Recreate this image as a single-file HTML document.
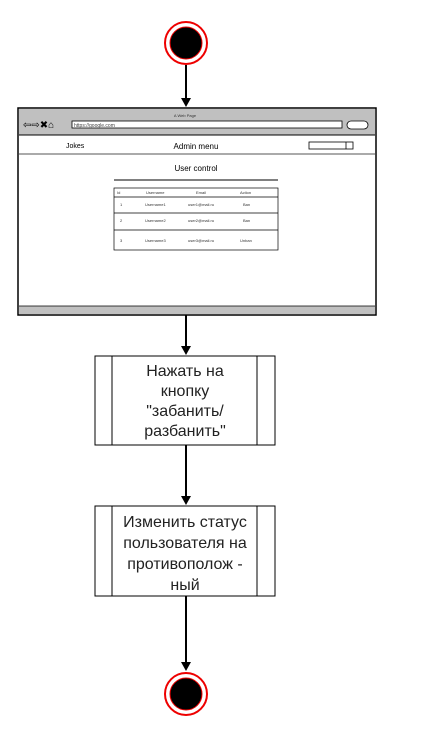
<!DOCTYPE html>
<html><head><meta charset="utf-8"><style>
body{margin:0;background:#fff;width:438px;height:744px;overflow:hidden;font-family:"Liberation Sans",sans-serif}
</style></head><body>
<svg width="438" height="744" xmlns="http://www.w3.org/2000/svg" font-family="Liberation Sans, sans-serif">
<defs><marker id="a" markerWidth="8" markerHeight="8" refX="4" refY="7" orient="auto" markerUnits="userSpaceOnUse"><path d="M0,0 L4,7 L8,0 Z" fill="#000" transform="rotate(-90 4 4)"/></marker></defs>
<!-- start -->
<circle cx="186" cy="43" r="21" fill="#fff" stroke="#e00" stroke-width="2"/>
<circle cx="186" cy="43" r="16" fill="#000" stroke="#e00" stroke-width="1"/>
<line x1="186" y1="65" x2="186" y2="100" stroke="#000" stroke-width="2"/>
<path d="M181,98 L191,98 L186,107 Z" fill="#000"/>
<!-- browser -->
<rect x="18" y="108" width="358" height="207" fill="#fff" stroke="#000" stroke-width="1.5"/>
<rect x="19" y="109" width="356" height="26" fill="#c0c0c0"/>
<text x="185" y="117" font-size="4" text-anchor="middle" fill="#333">A Web Page</text>
<text x="23" y="128" font-size="10">⇦⇨✖⌂</text>
<rect x="72" y="121" width="270" height="7" fill="#fff" stroke="#000" stroke-width="0.8"/>
<text x="74" y="127" font-size="5" fill="#444">https://google.com</text>
<rect x="347" y="121" width="21" height="8" rx="4" fill="#fff" stroke="#000" stroke-width="0.8"/>
<line x1="19" y1="135" x2="375" y2="135" stroke="#000"/>
<text x="66" y="148" font-size="7">Jokes</text>
<text x="196" y="149" font-size="8" text-anchor="middle">Admin menu</text>
<rect x="309" y="142" width="44" height="7" fill="#fff" stroke="#000" stroke-width="0.8"/>
<line x1="346" y1="142" x2="346" y2="149" stroke="#000" stroke-width="0.8"/>
<line x1="19" y1="154" x2="375" y2="154" stroke="#555" stroke-width="1"/>
<text x="196" y="171" font-size="8" text-anchor="middle">User control</text>
<line x1="114" y1="180" x2="278" y2="180" stroke="#000" stroke-width="1"/>
<rect x="114" y="188" width="164" height="62" fill="none" stroke="#000" stroke-width="0.7"/>
<line x1="114" y1="197" x2="278" y2="197" stroke="#000" stroke-width="0.7"/>
<line x1="114" y1="213" x2="278" y2="213" stroke="#000" stroke-width="0.7"/>
<line x1="114" y1="230" x2="278" y2="230" stroke="#000" stroke-width="0.7"/>
<g font-size="4" fill="#333">
<text x="117" y="194">Id</text><text x="146" y="194">Username</text><text x="196" y="194">Email</text><text x="240" y="194">Action</text>
<text x="120" y="206">1</text><text x="145" y="206">Username1</text><text x="188" y="206">user1@mail.ru</text><text x="243" y="206">Ban</text>
<text x="120" y="222">2</text><text x="145" y="222">Username2</text><text x="188" y="222">user2@mail.ru</text><text x="243" y="222">Ban</text>
<text x="120" y="242">3</text><text x="145" y="242">Username3</text><text x="188" y="242">user3@mail.ru</text><text x="240" y="242">Unban</text>
</g>
<rect x="19" y="306" width="356" height="8" fill="#c0c0c0"/>
<line x1="19" y1="306" x2="375" y2="306" stroke="#000" stroke-width="0.8"/>
<!-- arrow -->
<line x1="186" y1="315" x2="186" y2="348" stroke="#000" stroke-width="2"/>
<path d="M181,346 L191,346 L186,355 Z" fill="#000"/>
<!-- box1 -->
<rect x="95" y="356" width="180" height="89" fill="#fff" stroke="#000"/>
<line x1="112" y1="356" x2="112" y2="445" stroke="#000"/>
<line x1="257" y1="356" x2="257" y2="445" stroke="#000"/>
<g font-size="16" fill="#222" text-anchor="middle">
<text x="185" y="376">Нажать на</text><text x="185" y="396">кнопку</text><text x="185" y="416">"забанить/</text><text x="185" y="436">разбанить"</text>
</g>
<line x1="186" y1="445" x2="186" y2="498" stroke="#000" stroke-width="2"/>
<path d="M181,496 L191,496 L186,505 Z" fill="#000"/>
<!-- box2 -->
<rect x="95" y="506" width="180" height="90" fill="#fff" stroke="#000"/>
<line x1="112" y1="506" x2="112" y2="596" stroke="#000"/>
<line x1="257" y1="506" x2="257" y2="596" stroke="#000"/>
<g font-size="16" fill="#222" text-anchor="middle">
<text x="185" y="527">Изменить статус</text><text x="185" y="548">пользователя на</text><text x="185" y="569">противополож -</text><text x="185" y="590">ный</text>
</g>
<line x1="186" y1="596" x2="186" y2="664" stroke="#000" stroke-width="2"/>
<path d="M181,662 L191,662 L186,671 Z" fill="#000"/>
<circle cx="186" cy="694" r="21" fill="#fff" stroke="#e00" stroke-width="2"/>
<circle cx="186" cy="694" r="16" fill="#000" stroke="#e00" stroke-width="1"/>
</svg>
</body></html>
